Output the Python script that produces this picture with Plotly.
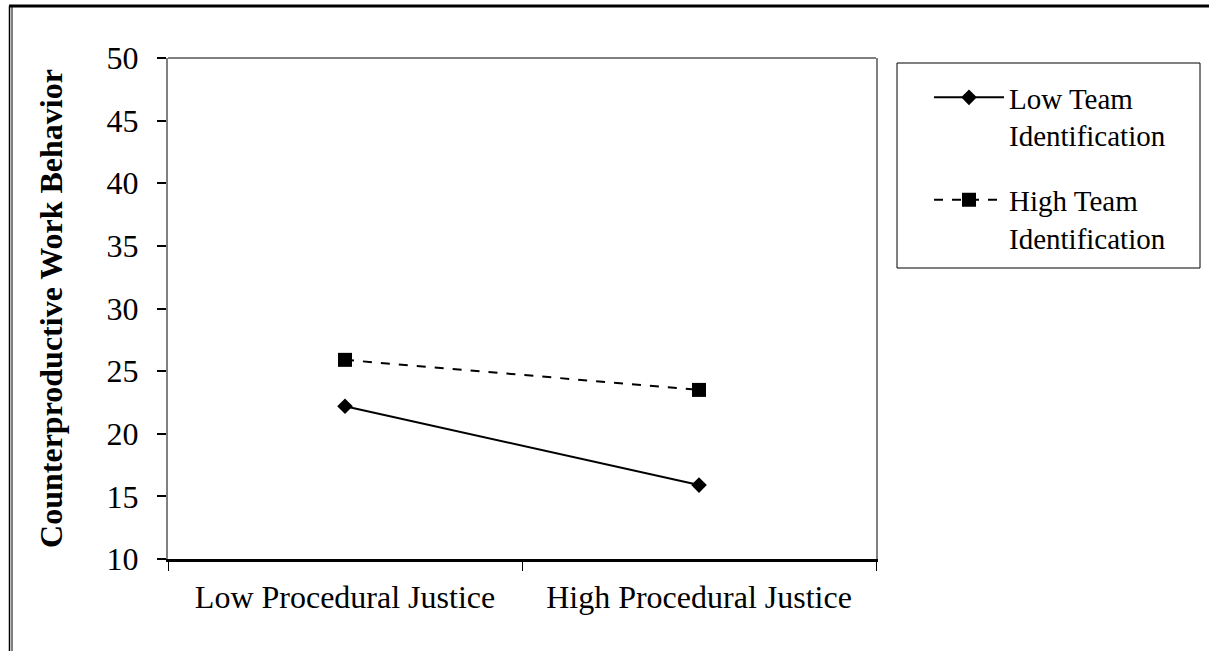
import plotly.graph_objects as go

categories = ["Low Procedural Justice", "High Procedural Justice"]
low_team = [22.2, 15.9]
high_team = [25.9, 23.5]
series_names = ["Low Team<br>Identification", "High Team<br>Identification"]
y_title = "Counterproductive Work Behavior"

FONT = "Liberation Serif, Times New Roman, serif"

fig = go.Figure()
fig.add_trace(go.Scatter(
    x=categories, y=low_team, name=series_names[0], mode="lines+markers",
    legendgroup="low",
    line=dict(color="black", width=2, dash="solid"),
    marker=dict(symbol="diamond", size=12, color="black"),
))
fig.add_trace(go.Scatter(
    x=categories, y=high_team, name=series_names[1], mode="lines+markers",
    legendgroup="high",
    line=dict(color="black", width=2, dash="dash"),
    marker=dict(symbol="square", size=14, color="black"),
))

L, R, T, B = 168, 876, 58, 559
W, H = 1209, 651
pw, ph = R - L, B - T

def px(x):
    return (x - L) / pw

def py(y):
    return (B - y) / ph

fig.update_layout(
    width=W, height=H,
    margin=dict(l=L, r=W - R, t=T, b=H - B, pad=0),
    paper_bgcolor="white", plot_bgcolor="white",
    font=dict(family=FONT, size=30, color="black"),
    showlegend=True,
    legend=dict(
        x=px(929), y=py(72), xanchor="left", yanchor="top",
        borderwidth=0, bgcolor="rgba(0,0,0,0)",
        font=dict(family=FONT, size=29, color="black"),
        itemwidth=70, tracegroupgap=24, traceorder="grouped", valign="top",
    ),
    xaxis=dict(
        type="category", range=[-0.5, 1.5],
        showline=True, linecolor="black", linewidth=3,
        ticks="outside", tickson="boundaries", ticklen=9, tickcolor="black", tickwidth=1,
        showgrid=False, zeroline=False, ticklabelstandoff=8,
        tickfont=dict(family=FONT, size=32, color="black"),
    ),
    yaxis=dict(
        range=[10, 50], dtick=5, tick0=10,
        showline=True, linecolor="#808080", linewidth=2, mirror=True,
        ticks="outside", ticklen=9, tickcolor="black", tickwidth=2,
        showgrid=False, zeroline=False, ticklabelstandoff=12,
        tickfont=dict(family=FONT, size=32, color="black"),
        title=dict(text=y_title, standoff=34,
                   font=dict(family=FONT, size=32, color="black", weight="bold")),
    ),
    shapes=[
        dict(type="line", xref="x domain", yref="y domain", x0=0, x1=1, y0=1, y1=1,
             line=dict(color="#808080", width=2)),
        dict(type="rect", xref="paper", yref="paper", x0=px(897), x1=px(1200), y0=py(63), y1=py(268),
             line=dict(color="black", width=1)),
        dict(type="line", xref="paper", yref="paper", x0=px(9), x1=px(1209), y0=py(6), y1=py(6),
             line=dict(color="black", width=3)),
        dict(type="line", xref="paper", yref="paper", x0=px(9.5), x1=px(9.5), y0=py(6), y1=py(651),
             line=dict(color="black", width=1.5)),
        dict(type="line", xref="paper", yref="paper", x0=px(12), x1=px(12), y0=py(6), y1=py(651),
             line=dict(color="black", width=1)),
    ],
)

fig.write_html("out.html", config={"displayModeBar": False},
               post_script="document.body.style.margin='0';document.body.style.overflow='hidden';")
